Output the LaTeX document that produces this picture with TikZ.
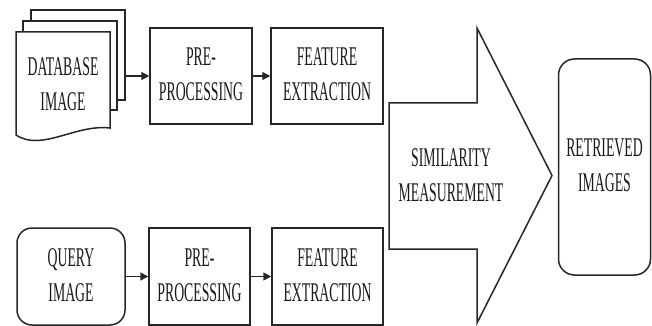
\documentclass[tikz,border=0pt]{standalone}
\usepackage{fontspec}
\setmainfont{Liberation Serif}
\usepackage{graphicx}
\usetikzlibrary{arrows.meta}

\newcommand{\sqz}[1]{\scalebox{0.51}[1]{\begin{tabular}{@{}c@{}}#1\end{tabular}}}

\begin{document}
\begin{tikzpicture}[x=1pt,y=-1pt,line width=1.5pt,
		txt/.style={inner sep=0pt,text=black!90,font=\fontsize{27}{35}\selectfont},
		box/.style={txt,draw=black!85,fill=white,minimum height=96pt},
		page/.style={draw=black!85,fill=white},
		flow/.style={draw=black!85,-{Triangle[length=8pt,width=8pt]}}]
		\useasboundingbox (0,0) rectangle (652,326);
		\draw[page] (31,10) rectangle (125,100);
		\draw[page] (23,21) rectangle (117,110);
		\draw[page] (16,32) -- (110,32) -- (110,128) .. controls (75,124) and (42,152) .. (16,135) -- cycle;
		\node[txt] (db) at (63,86) {\sqz{DATABASE\\IMAGE}};
		\coordinate (dbout) at (125,76);
		\node[box,minimum width=102pt] (pre1) at (201,76) {\sqz{PRE-\\PROCESSING}};
		\node[box,minimum width=112pt] (feat1) at (327,76) {\sqz{FEATURE\\EXTRACTION}};
		\node[box,rounded corners=15pt,minimum width=108pt,minimum height=97pt] (query) at (71,276.5) {\sqz{QUERY\\IMAGE}};
		\node[box,minimum width=101pt,minimum height=97pt] (pre2) at (199.5,276.5) {\sqz{PRE-\\PROCESSING}};
		\node[box,minimum width=111pt,minimum height=97pt] (feat2) at (327.5,276.5) {\sqz{FEATURE\\EXTRACTION}};
		\draw[page] (389,103) -- (477,103) -- (477,28) -- (552,175.5) -- (477,323) -- (477,249) -- (389,249) -- cycle;
		\node[txt] (sim) at (451,177) {\sqz{SIMILARITY\\MEASUREMENT}};
		\node[box,rounded corners=16pt,minimum width=92pt,minimum height=216pt] (ret) at (604.5,167) {\sqz{RETRIEVED\\IMAGES}};
		\draw[flow] (dbout) -- (pre1);
		\draw[flow] (pre1) -- (feat1);
		\draw[flow] (query) -- (pre2);
		\draw[flow] (pre2) -- (feat2);
	\end{tikzpicture}
\end{document}
